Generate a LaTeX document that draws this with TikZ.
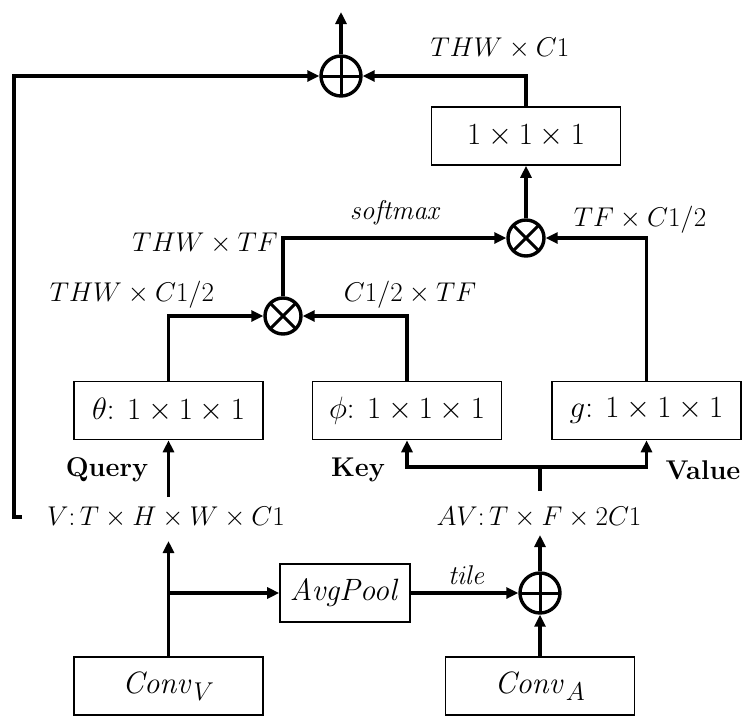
\documentclass[tikz,border=0pt]{standalone}
\usetikzlibrary{arrows.meta}
\newcommand{\mytxt}[1]{\scalebox{1.09}{#1}}
\newcommand{\boxtxt}[1]{\scalebox{1.24}{#1}}
\begin{document}
\begin{tikzpicture}[x=1pt,y=-1pt,
  font=\fontsize{24.88}{30}\selectfont,
  box/.style={draw, line width=1.6pt, minimum width=189pt, minimum height=58pt, inner sep=0pt},
  lbl/.style={inner sep=0pt, anchor=center},
  conn/.style={line width=3.6pt, -{Triangle[length=12pt,width=11pt]}},
  wire/.style={line width=3.6pt},
  oplus/.style={circle, draw, line width=3.4pt, minimum size=#1, inner sep=0pt,
    path picture={\draw[line width=3pt] (path picture bounding box.north) -- (path picture bounding box.south)
      (path picture bounding box.west) -- (path picture bounding box.east);}},
  otimes/.style={circle, draw, line width=3.4pt, minimum size=#1, inner sep=0pt,
    path picture={\draw[line width=3pt] (path picture bounding box.north west) -- (path picture bounding box.south east)
      (path picture bounding box.south west) -- (path picture bounding box.north east);}}
]
\useasboundingbox (0,0) rectangle (748,726);

% nodes
\node[box] (conv1) at (526,136) {\boxtxt{$1\times 1\times 1$}};
\node[box] (theta) at (168.5,410.5) {\boxtxt{$\theta$: $1\times 1\times 1$}};
\node[box] (phi) at (407,410.5) {\boxtxt{$\phi$: $1\times 1\times 1$}};
\node[box] (g) at (646.5,410.5) {\boxtxt{$g$: $1\times 1\times 1$}};
\node[box] (convV) at (168.5,686) {\boxtxt{$\mathit{Conv}_V$}};
\node[box] (convA) at (540,686) {\boxtxt{$\mathit{Conv}_A$}};
\node[box, minimum width=130pt] (avg) at (345,593) {\boxtxt{$\mathit{AvgPool}$}};

\node[oplus=40pt] (plusTop) at (341,76) {};
\node[otimes=36pt] (times1) at (526,238) {};
\node[otimes=36pt] (times2) at (283,316) {};
\node[oplus=40pt] (plus2) at (540,593) {};

\node[lbl] (Vlab) at (166,517) {\mytxt{$V{:}\,T\times H\times W\times C1$}};
\node[lbl] (AVlab) at (539,517) {\mytxt{$AV{:}\,T\times F\times 2C1$}};

\node[lbl] (l1) at (500,48) {\mytxt{$THW\times C1$}};
\node[lbl] (l2) at (396,213) {\mytxt{$\mathit{softmax}$}};
\node[lbl] (l3) at (640,220) {\mytxt{$TF\times C1/2$}};
\node[lbl] (l4) at (205,243) {\mytxt{$THW\times TF$}};
\node[lbl] (l5) at (132,295) {\mytxt{$THW\times C1/2$}};
\node[lbl] (l6) at (410,295) {\mytxt{$C1/2\times TF$}};
\node[lbl] (q) at (107,470) {\mytxt{\bfseries Query}};
\node[lbl] (k) at (358,470) {\mytxt{\bfseries Key}};
\node[lbl] (v) at (703,470) {\mytxt{\bfseries Value}};
\node[lbl] (tile) at (467,575) {\mytxt{$\mathit{tile}$}};

\coordinate (outTop) at (341,12);
\coordinate (fb) at (22,517);
\coordinate (br) at (540,467);
\coordinate (vsplit) at (168.5,593);
\coordinate (vtop) at (168.5,497);
\coordinate (vbot) at (168.5,541);
\coordinate (avtop) at (540,491);
\coordinate (avbot) at (540,535);

% connectors
\draw[conn] (plusTop.north) -- (outTop);
\draw[conn] (conv1.north) |- (plusTop.east);
\draw[conn] (fb) -- (14,517) |- (plusTop.west);
\draw[conn] (times1.north) -- (conv1.south);
\draw[conn] (times2.north) |- (times1.west);
\draw[conn] (g.north) |- (times1.east);
\draw[conn] (theta.north) |- (times2.west);
\draw[conn] (phi.north) |- (times2.east);
\draw[conn] (vtop) -- (theta.south);
\draw[wire] (avtop) -- (br);
\draw[conn] (br) -| (phi.south);
\draw[conn] (br) -| (g.south);
\draw[conn] (convV.north) -- (vbot);
\draw[conn] (vsplit) -- (avg.west);
\draw[conn] (avg.east) -- (plus2.west);
\draw[conn] (convA.north) -- (plus2.south);
\draw[conn] (plus2.north) -- (avbot);
\end{tikzpicture}
\end{document}
